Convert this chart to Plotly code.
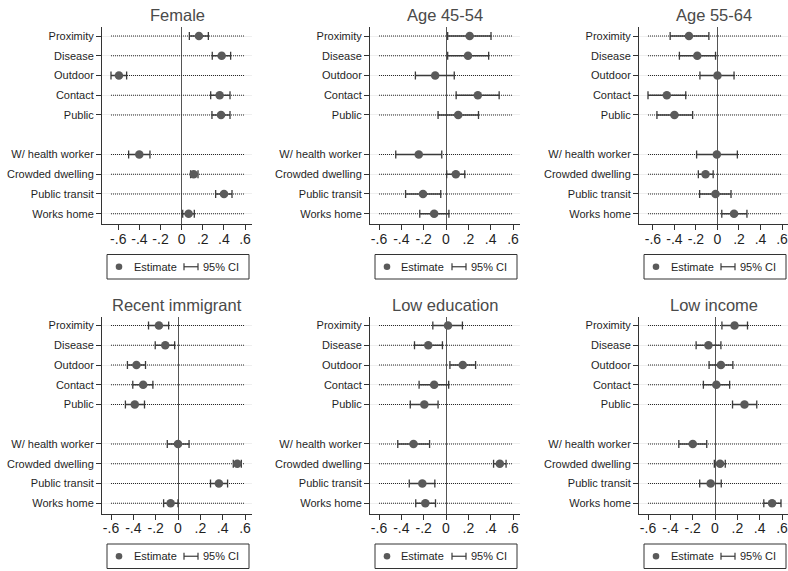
import plotly.graph_objects as go

# ---------------- data ----------------
group1 = ["Proximity", "Disease", "Outdoor", "Contact", "Public"]
group2 = ["W/ health worker", "Crowded dwelling", "Public transit", "Works home"]
panels = ["Female", "Age 45-54", "Age 55-64", "Recent immigrant", "Low education", "Low income"]
tick_vals = [-0.6, -0.4, -0.2, 0, 0.2, 0.4, 0.6]
tick_text = ["-.6", "-.4", "-.2", "0", ".2", ".4", ".6"]

female_est = [0.164, 0.379, -0.594, 0.360, 0.373, -0.401, 0.114, 0.401, 0.066]
female_lo = [0.073, 0.290, -0.669, 0.275, 0.287, -0.502, 0.085, 0.322, 0.010]
female_hi = [0.253, 0.464, -0.521, 0.458, 0.458, -0.300, 0.155, 0.477, 0.120]

age4554_est = [0.212, 0.197, -0.097, 0.285, 0.109, -0.244, 0.088, -0.206, -0.106]
age4554_lo = [0.015, 0.015, -0.274, 0.091, -0.071, -0.450, 0.006, -0.362, -0.235]
age4554_hi = [0.403, 0.382, 0.074, 0.476, 0.291, -0.038, 0.168, -0.047, 0.026]

age5564_est = [-0.265, -0.188, 0.000, -0.471, -0.400, -0.006, -0.111, -0.018, 0.154]
age5564_lo = [-0.440, -0.354, -0.163, -0.646, -0.563, -0.194, -0.178, -0.166, 0.040]
age5564_hi = [-0.080, -0.018, 0.154, -0.295, -0.231, 0.185, -0.040, 0.126, 0.274]

immig_est = [-0.171, -0.114, -0.372, -0.312, -0.387, 0.000, 0.531, 0.366, -0.066]
immig_lo = [-0.264, -0.204, -0.453, -0.405, -0.471, -0.096, 0.495, 0.291, -0.129]
immig_hi = [-0.084, -0.030, -0.291, -0.225, -0.300, 0.099, 0.567, 0.444, 0.000]

loedu_est = [0.018, -0.159, 0.150, -0.106, -0.194, -0.291, 0.482, -0.212, -0.185]
loedu_lo = [-0.118, -0.282, 0.035, -0.241, -0.320, -0.432, 0.426, -0.329, -0.271]
loedu_hi = [0.147, -0.032, 0.265, 0.024, -0.071, -0.147, 0.538, -0.100, -0.094]

loinc_est = [0.175, -0.059, 0.053, 0.012, 0.264, -0.199, 0.045, -0.039, 0.511]
loinc_lo = [0.062, -0.169, -0.053, -0.104, 0.157, -0.324, -0.006, -0.137, 0.437]
loinc_hi = [0.291, 0.053, 0.160, 0.131, 0.374, -0.074, 0.092, 0.056, 0.591]

series = [
    (female_est, female_lo, female_hi),
    (age4554_est, age4554_lo, age4554_hi),
    (age5564_est, age5564_lo, age5564_hi),
    (immig_est, immig_lo, immig_hi),
    (loedu_est, loedu_lo, loedu_hi),
    (loinc_est, loinc_lo, loinc_hi),
]

# ---------------- layout helpers ----------------
W, H = 788, 571
FONT = "Liberation Sans, Arial, Helvetica, sans-serif"
TXT = "#1f1f1f"
MARK = "#5a5a5a"
LINE = "#3a3a3a"


def fx(px):
    return px / W


def fy(py):
    return 1 - py / H


labels = group1 + group2
ypos = list(range(1, len(group1) + 1)) + list(range(len(group1) + 2, len(group1) + 2 + len(group2)))

axis_px = [102.0, 370.0, 639.0, 102.0, 370.0, 639.0]
row_off = [0, 0, 0, 289.5, 289.5, 289.5]
TOP, BOT = 27.0, 224.0
DATA_W, PAD_L, PAD_R = 134.0, 9.0, 7.0

fig = go.Figure()
shapes = []
annotations = []
layout_axes = {}

for i, (name, (est, lo_, hi_)) in enumerate(zip(panels, series)):
    k = "" if i == 0 else str(i + 1)
    xa, ya = "x" + k, "y" + k
    lo = min(-0.6, min(lo_))
    hi = max(0.6, max(hi_))
    u = (hi - lo) / DATA_W
    x0 = axis_px[i]
    x1_full = x0 + PAD_L + DATA_W + PAD_R
    x1 = min(x1_full, W)
    xr = [lo - PAD_L * u, lo + (x1 - x0 - PAD_L) * u]
    off = row_off[i]

    # dotted reference lines across the data span
    dx, dy = [], []
    for p in ypos:
        dx += [lo, hi, None]
        dy += [p, p, None]
    fig.add_trace(go.Scatter(x=dx, y=dy, mode="lines", xaxis=xa, yaxis=ya,
                             line=dict(color="#2a2a2a", width=1.1, dash="1px,1px"),
                             hoverinfo="skip", showlegend=False))
    # estimates with CI
    fig.add_trace(go.Scatter(
        x=est, y=ypos, mode="markers", xaxis=xa, yaxis=ya, showlegend=False,
        marker=dict(size=8.5, color=MARK),
        error_x=dict(type="data", symmetric=False,
                     array=[h - e for h, e in zip(hi_, est)],
                     arrayminus=[e - l for e, l in zip(est, lo_)],
                     color=LINE, thickness=1.3, width=4)))

    layout_axes["xaxis" + k] = dict(
        domain=[fx(x0), fx(x1)], range=xr, anchor=ya,
        tickmode="array", tickvals=tick_vals, ticktext=tick_text,
        ticks="outside", ticklen=5, tickcolor="#333", tickwidth=1,
        tickfont=dict(size=14, color=TXT, family=FONT),
        ticklabeloverflow="allow", ticklabelstandoff=-3,
        showline=True, linecolor="#333", linewidth=1,
        showgrid=False, zeroline=True, zerolinecolor="#555", zerolinewidth=1,
        fixedrange=True)
    layout_axes["yaxis" + k] = dict(
        domain=[fy(BOT + off), fy(TOP + off)], range=[10.52, 0.544], anchor=xa,
        tickmode="array", tickvals=ypos, ticktext=labels,
        ticks="outside", ticklen=5, tickcolor="#333", tickwidth=1,
        tickfont=dict(size=11, color=TXT, family=FONT),
        showline=True, linecolor="#333", linewidth=1,
        showgrid=True, gridcolor="#efefef", gridwidth=1,
        zeroline=False, fixedrange=True)

    cx = (x0 + x1_full) / 2
    # title
    annotations.append(dict(text=name, x=fx(cx), y=fy(15 + off), xref="paper", yref="paper",
                            xanchor="center", yanchor="middle", showarrow=False,
                            font=dict(size=16.5, color="#4a4a4a", family=FONT)))
    # legend box
    bw, bh = 142.0, 24.5
    bx = cx - bw / 2 + 1
    by = 254.5 + off
    my = by + bh / 2
    shapes.append(dict(type="rect", xref="paper", yref="paper",
                       x0=fx(bx), x1=fx(bx + bw), y0=fy(by + bh), y1=fy(by),
                       line=dict(color="#333", width=1), fillcolor="white"))
    r = 3.3
    shapes.append(dict(type="circle", xref="paper", yref="paper",
                       x0=fx(bx + 12 - r), x1=fx(bx + 12 + r), y0=fy(my + r), y1=fy(my - r),
                       line=dict(color=MARK, width=0), fillcolor=MARK))
    shapes.append(dict(type="line", xref="paper", yref="paper",
                       x0=fx(bx + 77), x1=fx(bx + 91), y0=fy(my), y1=fy(my),
                       line=dict(color=LINE, width=1.2)))
    for cxp in (bx + 77, bx + 91):
        shapes.append(dict(type="line", xref="paper", yref="paper",
                           x0=fx(cxp), x1=fx(cxp), y0=fy(my - 3.5), y1=fy(my + 3.5),
                           line=dict(color=LINE, width=1.2)))
    annotations.append(dict(text="Estimate", x=fx(bx + 24.5), y=fy(my), xref="paper", yref="paper",
                            xanchor="left", yanchor="middle", showarrow=False,
                            font=dict(size=11, color=TXT, family=FONT)))
    annotations.append(dict(text="95% CI", x=fx(bx + 93.5), y=fy(my), xref="paper", yref="paper",
                            xanchor="left", yanchor="middle", showarrow=False,
                            font=dict(size=11, color=TXT, family=FONT)))

fig.update_layout(
    width=W, height=H, autosize=False,
    margin=dict(l=0, r=0, t=0, b=0),
    paper_bgcolor="white", plot_bgcolor="white",
    font=dict(family=FONT, color=TXT),
    showlegend=False,
    shapes=shapes, annotations=annotations,
    **layout_axes)

fig.write_html("out.html", config={"displayModeBar": False},
               post_script="document.body.style.margin='0';document.body.style.overflow='hidden';")
